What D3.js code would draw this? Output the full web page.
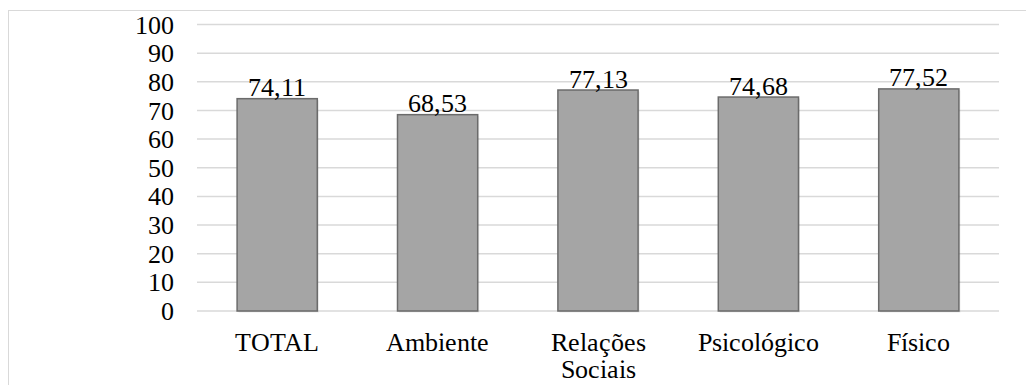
<!DOCTYPE html>
<html>
<head>
<meta charset="utf-8">
<script src="https://cdn.jsdelivr.net/npm/d3@7"></script>
<style>
  @font-face {
    font-family: 'ChartSerif';
    src: local('Liberation Serif'), local('LiberationSerif'), local('Liberation Serif Regular'), local('Tinos'), local('Times New Roman');
  }
  html, body { margin: 0; padding: 0; background: #fff; }
  svg { display: block; }
  svg text, svg tspan { font-family: 'ChartSerif', 'Times New Roman', 'Liberation Serif', Tinos, serif !important; }
</style>
</head>
<body>
<svg width="1026" height="385"></svg>
<script>
// Quality-of-life domain scores
const categories = ["TOTAL", "Ambiente", "Relações Sociais", "Psicológico", "Físico"];
const values = [74.11, 68.53, 77.13, 74.68, 77.52];
const yTicks = [0, 10, 20, 30, 40, 50, 60, 70, 80, 90, 100];

const FONT_SIZE = "26px";

const svg = d3.select("svg");
const W = 1026, H = 385;

// chart area frame
svg.append("rect")
  .attr("x", 8.5).attr("y", 10.5)
  .attr("width", W + 10).attr("height", H + 10)
  .attr("fill", "none").attr("stroke", "#d9d9d9").attr("stroke-width", 1);

const plotLeft = 197, plotRight = 999, plotTop = 24.5, plotBottom = 311;

const x = d3.scaleBand().domain(categories).range([plotLeft, plotRight])
  .paddingInner(0.5).paddingOuter(0.25);
const y = d3.scaleLinear().domain([0, 100]).range([plotBottom, plotTop]);

// horizontal gridlines
svg.append("g").selectAll("line").data(yTicks).join("line")
  .attr("x1", plotLeft).attr("x2", plotRight)
  .attr("y1", d => y(d)).attr("y2", d => y(d))
  .attr("stroke", "#d9d9d9").attr("stroke-width", 1.5);

// y axis labels
const yAxis = d3.axisLeft(y).tickValues(yTicks).tickSize(0).tickPadding(0)
  .tickFormat(d3.format("d"));
const gy = svg.append("g").attr("transform", `translate(174,0)`).call(yAxis);
gy.attr("font-family", null).attr("font-size", null);
gy.select(".domain").remove();
gy.selectAll("text")
  .style("font-size", FONT_SIZE)
  .attr("fill", "#000").attr("dy", "0.33em");

// bar shadows
svg.append("g").selectAll("rect").data(values).join("rect")
  .attr("x", (d, i) => x(categories[i]) + 1.5)
  .attr("y", d => y(d) + 1.5)
  .attr("width", x.bandwidth())
  .attr("height", d => plotBottom - y(d))
  .attr("fill", "#000").attr("opacity", 0.08);

// bars
svg.append("g").selectAll("rect").data(values).join("rect")
  .attr("x", (d, i) => x(categories[i]))
  .attr("y", d => y(d))
  .attr("width", x.bandwidth())
  .attr("height", d => plotBottom - y(d))
  .attr("fill", "#a5a5a5").attr("stroke", "#6b6b6b").attr("stroke-width", 1.5);

// value labels
const fmt = v => v.toFixed(2).replace(".", ",");
svg.selectAll("text.value").data(values).join("text")
  .attr("class", "value")
  .attr("x", (d, i) => x(categories[i]) + x.bandwidth() / 2)
  .attr("y", d => y(d) - 2.5)
  .attr("text-anchor", "middle")
  .attr("fill", "#000")
  .style("font-size", FONT_SIZE)
  .text(d => fmt(d));

// category labels (wrapped to two lines where needed)
const xAxis = d3.axisBottom(x).tickSize(0).tickPadding(0);
const gx = svg.append("g").attr("transform", `translate(0,${plotBottom})`).call(xAxis);
gx.attr("font-family", null).attr("font-size", null);
gx.select(".domain").remove();
gx.selectAll("text").each(function(d) {
  const t = d3.select(this);
  t.text(null)
    .style("font-size", FONT_SIZE)
    .attr("fill", "#000").attr("y", 0).attr("dy", null);
  const lines = d === "Relações Sociais" ? ["Relações", "Sociais"] : [d];
  lines.forEach((ln, k) => {
    t.append("tspan").attr("x", 0).attr("y", 40 + k * 27).text(ln);
  });
});
</script>
</body>
</html>
